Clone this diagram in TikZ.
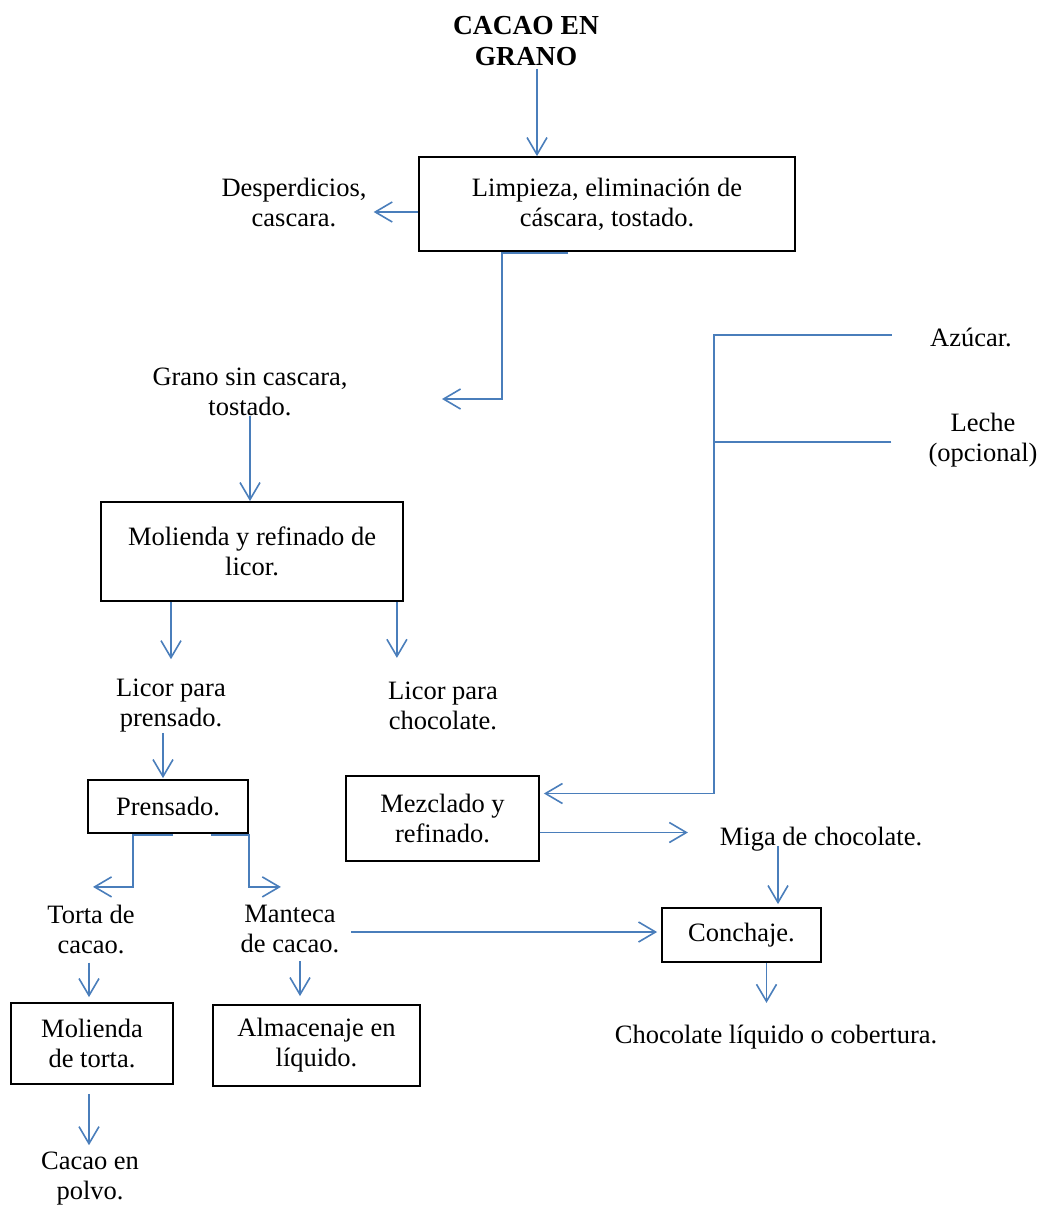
\documentclass[tikz,border=0pt]{standalone}
\usepackage{fontspec}
\setmainfont{Liberation Serif}
\usetikzlibrary{arrows.meta,calc}

\definecolor{flowblue}{HTML}{4A7EBB}

\tikzset{
  txt/.style={inner sep=0pt, align=center, font=\fontsize{26.5}{30}\selectfont},
  stage/.style={txt, draw, line width=1.8pt},
  flow/.style={draw=flowblue, line width=1.6pt, -{Straight Barb[length=17pt,width=20pt]}},
  feed/.style={draw=flowblue, line width=1.6pt}
}

\begin{document}
\begin{tikzpicture}[x=1pt,y=-1pt]
  \useasboundingbox (0,0) rectangle (1041,1205);

  % stages
  \node[txt, font=\fontsize{27.5}{31}\selectfont\bfseries] (title) at (526,41) {CACAO EN\\GRANO};
  \node[stage, minimum width=376pt, minimum height=94pt] (limp) at (607,204) {Limpieza, eliminación de\\cáscara, tostado.};
  \node[txt] (desp) at (294,202) {Desperdicios,\\cascara.};
  \node[txt] (grano) at (250,392) {Grano sin cascara,\\tostado.};
  \node[stage, minimum width=302pt, minimum height=99pt] (mol) at (252,551.5) {Molienda y refinado de\\licor.};
  \node[txt] (licp) at (171,706) {Licor para\\prensado.};
  \node[txt] (licc) at (443,706) {Licor para\\chocolate.};
  \node[stage, minimum width=160pt, minimum height=53pt] (pren) at (168,806.5) {Prensado.};
  \node[stage, minimum width=193pt, minimum height=85pt] (mezc) at (442.5,818.5) {Mezclado y\\refinado.};
  \node[txt] (azu) at (971,337) {Azúcar.};
  \node[txt] (leche) at (983,440) {Leche\\(opcional)};
  \node[txt] (miga) at (821,839) {Miga de chocolate.};
  \node[stage, minimum width=159pt, minimum height=54pt] (conch) at (741.5,935) {Conchaje.};
  \node[txt] (choc) at (776,1037) {Chocolate líquido o cobertura.};
  \node[txt] (torta) at (91,929) {Torta de\\cacao.};
  \node[txt] (mant) at (290,929) {Manteca\\de cacao.};
  \node[stage, minimum width=162pt, minimum height=81pt] (molt) at (92,1043.5) {Molienda\\de torta.};
  \node[stage, minimum width=207pt, minimum height=81pt] (alm) at (316.5,1045.5) {Almacenaje en\\líquido.};
  \node[txt] (polvo) at (90,1179) {Cacao en\\polvo.};

  \coordinate (k1) at (502,399);
  \coordinate (k2) at (442,399);
  \coordinate (s1) at (714,335);

  % flows
  \draw[flow] ($(title.south)+(11,3)$) -- ($(title.south |- limp.north)+(11,0)$);
  \draw[flow] ($(limp.west)+(0,8)$) -- ($(desp.east)+(7,10)$);
  \draw[flow] ($(limp.south)+(-39,1)$) -| (k1) -- (k2);
  \draw[flow] (grano.south) -- (grano.south |- mol.north);
  \draw[flow] (mol.south -| licp.north) -- ($(licp.north)+(0,-20)$);
  \draw[flow] ($(mol.south east)+(-7,0)$) -- ++(0,56);
  \draw[flow] ($(licp.south)+(-8,0)$) -- ($(licp.south |- pren.north)+(-8,-1)$);
  \draw[flow] ($(pren.south)+(5,1)$) -- ++(-40,0) -- ++(0,52) -- ++(-40,0);
  \draw[flow] ($(pren.south east)+(-38,1)$) -- ++(38,0) -- ++(0,52) -- ++(32,0);
  \draw[flow] ($(torta.south)+(-2,9)$) -- ($(molt.north)+(-3,-5)$);
  \draw[flow] ($(molt.south)+(-3,9)$) -- ($(polvo.north)+(-1,-7)$);
  \draw[flow] ($(mant.south)+(10,8)$) -- ($(alm.north)+(-16.5,-8)$);
  \draw[flow] ($(mant.east)+(12,3)$) -- ($(conch.west)+(-4,-3)$);
  \draw[feed] ($(leche.west)+(-37,2)$) -- (s1 |- {$(leche.west)+(0,2)$});
  \draw[flow] ($(azu.west)+(-38,-2)$) -- (s1) |- ($(mezc.east)+(4,-25)$);
  \draw[flow] ($(mezc.east)+(0,14)$) -- ++(148,0);
  \draw[flow] ($(miga.south)+(-43,-5)$) -- ($(miga.south |- conch.north)+(-43,-3)$);
  \draw[flow] ($(conch.south)+(25,0)$) -- ++(0,40);
\end{tikzpicture}
\end{document}
